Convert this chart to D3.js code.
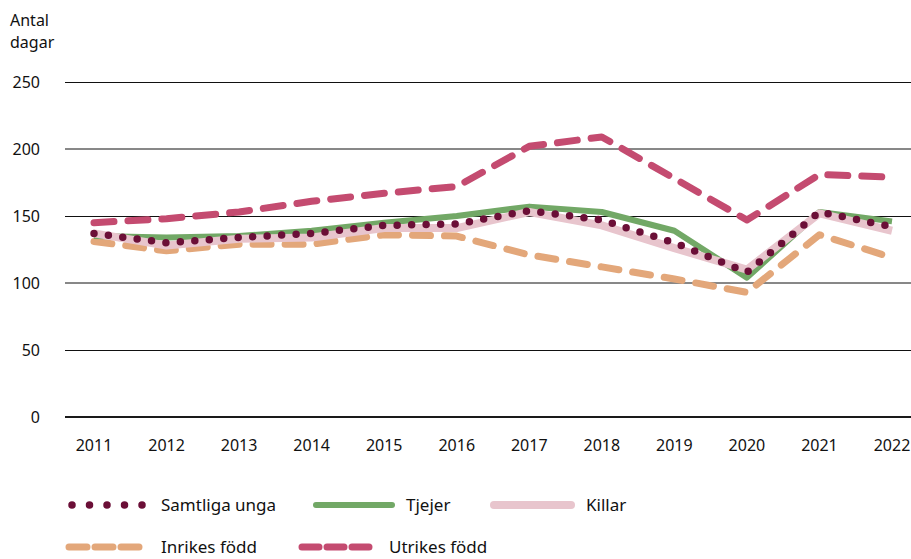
<!DOCTYPE html>
<html><head><meta charset="utf-8">
<script src="https://cdn.jsdelivr.net/npm/d3@7"></script>
<style>body{margin:0;background:#fff}svg{display:block;font-family:"Noto Sans",sans-serif}</style>
</head><body>
<svg id="c" width="911" height="559"></svg>
<script>
const years = [2011,2012,2013,2014,2015,2016,2017,2018,2019,2020,2021,2022];
const yTicks = [0,50,100,150,200,250];
const samtliga = [137,130,134,137,143,144,154,147,130,108,153,142];
const tjejer   = [135,134,135,139,145,150,157,153,139,104,153,146];
const killar   = [137,128,133,134,141,141,153,143,126,110,152,139];
const inrikes  = [131,124,129,129,136,135,121,112,103,93,136,119];
const utrikes  = [145,148,153,161,167,172,202,209,178,147,181,179];
const names = ["Samtliga unga","Tjejer","Killar","Inrikes född","Utrikes född"];

const svg = d3.select("#c");
const x = d3.scalePoint().domain(years).range([94,892]);
const y = d3.scaleLinear().domain([0,250]).range([417,82]);

// grid
svg.append("g").selectAll("line").data(yTicks).join("line")
  .attr("x1",65).attr("x2",911)
  .attr("y1",d=>y(d)+(d===0||d===100||d===200?0:0.5))
  .attr("y2",d=>y(d)+(d===0||d===100||d===200?0:0.5))
  .attr("stroke",d=>d===0?"#1a1a1a":"#111").attr("stroke-width",d=>d===0?2:1);
svg.append("g").selectAll("text").data(yTicks).join("text")
  .attr("x",40).attr("y",d=>y(d)).attr("dy","0.35em").attr("text-anchor","end")
  .attr("font-size",16).attr("fill","#111").text(d=>d);
svg.append("g").selectAll("text").data(years).join("text")
  .attr("x",d=>x(d)).attr("y",445).attr("dy","0.35em").attr("text-anchor","middle")
  .attr("font-size",16).attr("fill","#111").text(d=>d);
svg.append("text").attr("x",10).attr("y",26).attr("font-size",16).attr("fill","#111").text("Antal");
svg.append("text").attr("x",10).attr("y",48).attr("font-size",16).attr("fill","#111").text("dagar");

const line = d3.line().x((d,i)=>x(years[i])).y(d=>y(d));
const styles = [
  {data:inrikes, color:"#e3a77a", w:7, dash:"18 14", cap:"round"},
  {data:utrikes, color:"#c44b70", w:7, dash:"20 14", cap:"round"},
  {data:tjejer,  color:"#72a866", w:6, dash:null, cap:"butt"},
  {data:killar,  color:"#e8c5cd", w:8, dash:null, cap:"butt"},
  {data:samtliga,color:"#6b0f37", w:7.5, dash:"0 14.5", cap:"round"}
];
styles.forEach(s=>{
  svg.append("path").datum(s.data).attr("d",line).attr("fill","none")
    .attr("stroke",s.color).attr("stroke-width",s.w).attr("stroke-linecap",s.cap)
    .attr("stroke-linejoin","round").attr("stroke-dasharray",s.dash);
});

// legend
const leg = [
  {name:names[0], s:styles[4], x1:72, x2:145, tx:161, y:505, dash:"0 17.5"},
  {name:names[1], s:styles[2], x1:316, x2:392, tx:406, y:505, cap:"round"},
  {name:names[2], s:styles[3], x1:494, x2:571, tx:586, y:505, cap:"round"},
  {name:names[3], s:styles[0], x1:69, x2:139, tx:161, y:547, dash:"18 8"},
  {name:names[4], s:styles[1], x1:302, x2:374, tx:389, y:547, dash:"17 8"}
];
leg.forEach(l=>{
  svg.append("line").attr("x1",l.x1).attr("x2",l.x2).attr("y1",l.y).attr("y2",l.y)
    .attr("stroke",l.s.color).attr("stroke-width",l.s.w).attr("stroke-linecap",l.cap||l.s.cap)
    .attr("stroke-dasharray",l.dash||null);
  svg.append("text").attr("x",l.tx).attr("y",l.y).attr("dy","0.35em").attr("font-size",17)
    .attr("fill","#111").text(l.name);
});
</script>
</body></html>
